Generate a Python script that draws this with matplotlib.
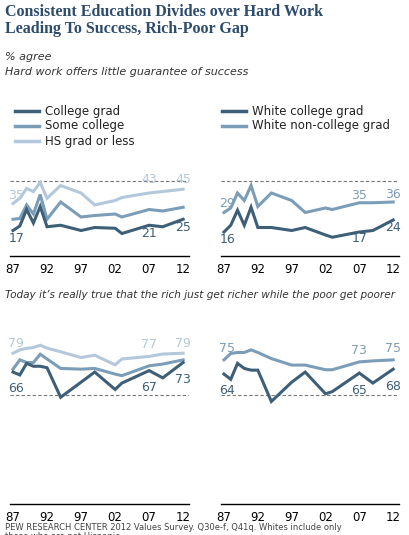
import matplotlib.pyplot as plt

years_top = [1987, 1988, 1989, 1990, 1991, 1992, 1994, 1997, 1999, 2002, 2003, 2007, 2009, 2012]
# hard work offers little guarantee of success
hs_grad = [35, 38.5, 45, 43, 49, 38.5, 47, 42, 34, 37, 39, 42, 43, 44.5]
some_col = [24.5, 25, 34, 28, 41, 24.5, 36, 26, 27, 28, 26, 31, 30, 32.5]
col_grad = [17, 20, 31, 22, 33, 19.5, 20.5, 17, 19, 18.5, 15, 20.5, 19.5, 24.5]
w_noncol = [29, 32, 42, 37, 47, 33, 42, 37, 29, 32, 31, 35.5, 35.5, 36]
w_col = [16, 20.5, 30.5, 20.5, 32.5, 19, 19, 17, 19, 14, 12.5, 16, 17, 24]

years_bot = [1987, 1988, 1989, 1990, 1991, 1992, 1994, 1997, 1999, 2002, 2003, 2007, 2009, 2012]
# rich get richer, poor get poorer
hs_grad_b = [79, 81.3, 82.3, 82.9, 84.5, 82.5, 80, 76, 77.6, 71, 75, 76.8, 78.4, 79]
some_col_b = [68, 74.4, 72.6, 72.6, 78.3, 75, 68.5, 68, 68.5, 64.6, 63.5, 70.3, 71.5, 74.4]
col_grad_b = [66, 64, 72, 70, 70, 69, 48.6, 59, 66, 54, 58.4, 67, 62, 72.6]
w_noncol_b = [74.4, 78.8, 79.5, 79.5, 81.3, 79.5, 75.3, 70.8, 70.8, 67.6, 67.6, 73, 73.7, 74.4]
w_col_b = [64.6, 61, 72, 68.5, 67.3, 67.3, 45.7, 59, 66, 51, 52.5, 65.3, 58.4, 68]

xticks = [1987, 1992, 1997, 2002, 2007, 2012]
xlabels = ['87', '92', '97', '02', '07', '12']

dark = '#3e5f78'
mid = '#7c9db8'
light = '#b3c8da'
txt = '#333333'

fig = plt.figure(figsize=(4.09, 5.35), dpi=100)
W, H = 409, 535


def make_ax(left_px, bottom_px, width_px, height_px, ylim):
    ax = fig.add_axes([left_px / W, bottom_px / H, width_px / W, height_px / H])
    ax.set_xlim(1986.5, 2012.8)
    ax.set_ylim(*ylim)
    for s in ['top', 'right', 'left']:
        ax.spines[s].set_visible(False)
    ax.spines['bottom'].set_color('black')
    ax.spines['bottom'].set_linewidth(1)
    ax.set_yticks([])
    ax.set_xticks(xticks)
    ax.set_xticklabels(xlabels, fontsize=8.5, color='black')
    ax.tick_params(axis='x', length=0, pad=5)
    ax.axhline(50, color='#777777', lw=0.8, ls=(0, (3, 2)))
    return ax


def lbl(ax, x, y, s, c):
    ax.text(x, y, s, color=c, fontsize=9, ha='center', va='center')


# top row: ylim 0..60
tl = make_ax(9.6, 279, 179, 90, (0, 60))
tr = make_ax(220.6, 279, 178, 90, (0, 60))
# bottom row
bl = make_ax(9.6, 31, 179, 174, (-25, 95))
br = make_ax(220.6, 31, 178, 174, (-25, 95))

for ax, ys in [(tl, [hs_grad, some_col, col_grad]), (bl, [hs_grad_b, some_col_b, col_grad_b])]:
    yy = years_top if ax is tl else years_bot
    for v, c in zip(ys, [light, mid, dark]):
        ax.plot(yy, v, color=c, lw=2.2, solid_joinstyle='miter')
for ax, ys in [(tr, [w_noncol, w_col]), (br, [w_noncol_b, w_col_b])]:
    yy = years_top if ax is tr else years_bot
    for v, c in zip(ys, [mid, dark]):
        ax.plot(yy, v, color=c, lw=2.2, solid_joinstyle='miter')

# value labels
lbl(tl, 1987.5, 40, '35', light); lbl(tl, 2007, 51, '43', light); lbl(tl, 2012, 51, '45', light)
lbl(tl, 1987.5, 12, '17', dark); lbl(tl, 2007, 15, '21', dark); lbl(tl, 2012, 19, '25', dark)
lbl(tr, 1987.5, 35, '29', mid); lbl(tr, 2007, 40, '35', mid); lbl(tr, 2012, 41, '36', mid)
lbl(tr, 1987.5, 11, '16', dark); lbl(tr, 2007, 12, '17', dark); lbl(tr, 2012, 19, '24', dark)
lbl(bl, 1987.5, 86, '79', light); lbl(bl, 2007, 85, '77', light); lbl(bl, 2012, 86, '79', light)
lbl(bl, 1987.5, 55, '66', dark); lbl(bl, 2007, 55.5, '67', dark); lbl(bl, 2012, 61, '73', dark)
lbl(br, 1987.5, 82, '75', mid); lbl(br, 2007, 81, '73', mid); lbl(br, 2012, 82, '75', mid)
lbl(br, 1987.5, 53, '64', dark); lbl(br, 2007, 53, '65', dark); lbl(br, 2012, 56, '68', dark)

# titles and notes
fig.text(5 / W, 1 - 4 / H, 'Consistent Education Divides over Hard Work\nLeading To Success, Rich-Poor Gap',
         fontsize=11.5, fontweight='bold', family='Liberation Serif', color='#2d4b6b',
         va='top', linespacing=1.05)
fig.text(5 / W, 1 - 52 / H, '% agree', fontsize=8, style='italic', color=txt, va='top')
fig.text(5 / W, 1 - 67 / H, 'Hard work offers little guarantee of success', fontsize=8,
         style='italic', color=txt, va='top')
fig.text(5 / W, 1 - 290 / H,
         'Today it\u2019s really true that the rich just get richer while the poor get poorer',
         fontsize=7.6, style='italic', color=txt, va='top')
fig.text(5 / W, 1 - 523 / H,
         'PEW RESEARCH CENTER 2012 Values Survey. Q30e-f, Q41q. Whites include only\nthose who are not Hispanic.',
         fontsize=6, color='#444444', va='top', linespacing=1.0)

# legends
leg = [(15, 111, dark, 'College grad'), (15, 126, mid, 'Some college'), (15, 141, light, 'HS grad or less'),
       (222, 111, dark, 'White college grad'), (222, 126, mid, 'White non-college grad')]
for x, y, c, s in leg:
    fig.add_artist(plt.Line2D([x / W, (x + 24) / W], [1 - y / H, 1 - y / H], color=c, lw=2.5))
    fig.text((x + 30) / W, 1 - y / H, s, fontsize=8.5, color='#222222', va='center')

fig.savefig('out.png', dpi=100)
